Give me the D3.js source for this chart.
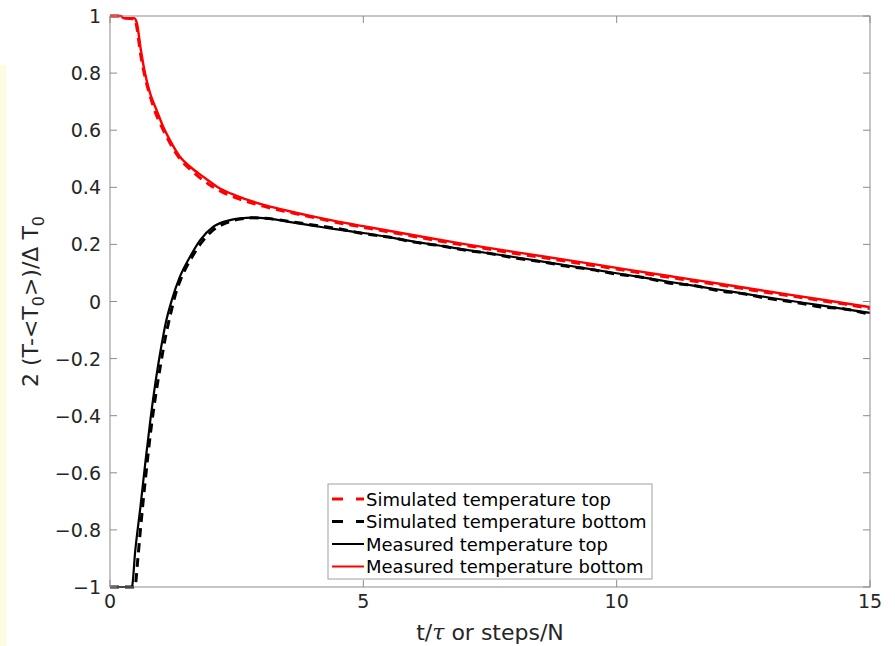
<!DOCTYPE html>
<html><head><meta charset="utf-8">
<script src="https://cdn.jsdelivr.net/npm/d3@7"></script>
<style>body{margin:0;background:#fff}svg{display:block}</style>
</head><body>
<svg id="c" width="895" height="646"></svg>
<script>
// ---- data ----
const measBottomT = [0,0.22,0.26,0.48,0.53,0.61,0.69,0.79,0.92,1.05,1.18,1.38,1.58,1.84,2.17,2.5,3.0,3.5,4.0,4.5,5,6,7,8,9,10,11,12,13,14,15];
const measBottomV = [1.0,1.0,0.993,0.992,0.975,0.88,0.80,0.73,0.67,0.612,0.566,0.507,0.472,0.437,0.396,0.37,0.34,0.318,0.298,0.28,0.264,0.232,0.201,0.173,0.146,0.118,0.090,0.063,0.035,0.008,-0.020];

const measTopT = [0,0.43,0.5,0.6,0.7,0.8,0.9,1.0,1.1,1.22,1.38,1.58,1.78,2.04,2.37,2.57,2.8,3.09,3.5,4.0,4.34,5,6,6.64,7,8,9,10,10.66,11,12,13,14,15];
const measTopV = [-1,-1,-0.87,-0.72,-0.56,-0.41,-0.28,-0.17,-0.075,0.005,0.087,0.157,0.215,0.262,0.285,0.291,0.294,0.291,0.28,0.266,0.256,0.24,0.21,0.192,0.182,0.155,0.127,0.099,0.08,0.07,0.042,0.014,-0.013,-0.04];

const simTopT = [0,0.22,0.26,0.49,0.53,0.6,0.7,0.8,0.9,1.0,1.2,1.4,1.6,1.8,2.0,2.2,2.5,3.0,3.5,4,4.5,5,5.5,6,6.5,7,7.5,8,8.5,9,9.5,10,10.5,11,11.5,12,12.5,13,13.5,14,14.5,15];
const simTopV = [1.0,1.0,0.993,0.99,0.96,0.87,0.78,0.715,0.66,0.62,0.55,0.495,0.46,0.43,0.405,0.385,0.362,0.335,0.314,0.295,0.276,0.26,0.244,0.228,0.212,0.197,0.183,0.168,0.155,0.141,0.127,0.114,0.099,0.086,0.072,0.059,0.045,0.031,0.018,0.004,-0.009,-0.025];

const simBottomT = [0,0.49,0.55,0.6,0.7,0.8,0.9,1.0,1.1,1.2,1.3,1.4,1.6,1.8,2.0,2.2,2.4,2.6,2.8,3.0,3.3,3.6,4,4.5,5,5.5,6,6.5,7,7.5,8,8.5,9,9.5,10,10.5,11,11.5,12,12.5,13,13.5,14,14.5,15];
const simBottomV = [-1,-1,-0.9,-0.8,-0.62,-0.46,-0.33,-0.22,-0.12,-0.04,0.03,0.08,0.15,0.205,0.245,0.268,0.282,0.29,0.293,0.292,0.287,0.279,0.268,0.255,0.238,0.226,0.208,0.196,0.180,0.168,0.152,0.140,0.124,0.112,0.096,0.085,0.066,0.057,0.038,0.027,0.010,-0.002,-0.018,-0.026,-0.045];

const xTicks = [0,5,10,15];
const yTicks = [-1,-0.8,-0.6,-0.4,-0.2,0,0.2,0.4,0.6,0.8,1];
const legendLabels = ["Simulated temperature top","Simulated temperature bottom","Measured temperature top","Measured temperature bottom"];

// ---- layout ----
const svg = d3.select("#c");
const L=110, R=870, T=16, B=587;
const x = d3.scaleLinear().domain([0,15]).range([L,R]);
const y = d3.scaleLinear().domain([-1,1]).range([B,T]);
const font = "'DejaVu Sans', sans-serif";
const axisCol = "#8c8c8c", textCol = "#262626";

svg.append("rect").attr("x",0).attr("y",65).attr("width",6).attr("height",581).attr("fill","#fcfce0");

// series
const series = [
  {t:simTopT, v:simTopV, color:"#ff0000", dash:"9,6", w:3},
  {t:simBottomT, v:simBottomV, color:"#000000", dash:"9,6", w:3},
  {t:measTopT, v:measTopV, color:"#000000", dash:null, w:2.2},
  {t:measBottomT, v:measBottomV, color:"#ff0000", dash:null, w:2.4}
];
const line = d3.line().x(d=>x(d[0])).y(d=>y(d[1])).curve(d3.curveMonotoneX);
const g = svg.append("g");
series.forEach(s=>{
  g.append("path").datum(s.t.map((t,i)=>[t,s.v[i]]))
   .attr("d",line).attr("fill","none").attr("stroke",s.color)
   .attr("stroke-width",s.w).attr("stroke-dasharray",s.dash)
   .attr("stroke-linejoin","round");
});

// axes box
const tl = 7;
const ax = svg.append("g");
ax.append("rect").attr("x",L).attr("y",T).attr("width",R-L).attr("height",B-T)
  .attr("fill","none").attr("stroke",axisCol).attr("stroke-width",1);
xTicks.forEach(v=>{
  ax.append("line").attr("x1",x(v)).attr("x2",x(v)).attr("y1",B).attr("y2",B-tl).attr("stroke",axisCol);
  ax.append("line").attr("x1",x(v)).attr("x2",x(v)).attr("y1",T).attr("y2",T+tl).attr("stroke",axisCol);
  ax.append("text").attr("x",x(v)).attr("y",B+21).attr("text-anchor","middle")
    .attr("font-family",font).attr("font-size",19).attr("fill",textCol).text(v);
});
yTicks.forEach(v=>{
  ax.append("line").attr("x1",L).attr("x2",L+tl).attr("y1",y(v)).attr("y2",y(v)).attr("stroke",axisCol);
  ax.append("line").attr("x1",R).attr("x2",R-tl).attr("y1",y(v)).attr("y2",y(v)).attr("stroke",axisCol);
  const lab = v<0 ? "\u2212"+d3.format("")(Math.abs(v)) : d3.format("")(v);
  ax.append("text").attr("x",L-9).attr("y",y(v)+7).attr("text-anchor","end")
    .attr("font-family",font).attr("font-size",19).attr("fill",textCol).text(lab);
});

// axis labels
const xl = svg.append("text").attr("x",(L+R)/2).attr("y",640).attr("text-anchor","middle")
  .attr("font-family",font).attr("font-size",22).attr("fill",textCol);
xl.append("tspan").text("t/");
xl.append("tspan").attr("font-family","'DejaVu Serif', serif").attr("font-style","italic").text("\u03c4");
xl.append("tspan").text(" or steps/N");

const yl = svg.append("text").attr("transform",`translate(38,${(T+B)/2}) rotate(-90)`)
  .attr("text-anchor","middle").attr("font-family",font).attr("font-size",22).attr("fill",textCol);
yl.append("tspan").text("2 (T-<T");
yl.append("tspan").attr("dy",6).attr("font-size",16).text("0");
yl.append("tspan").attr("dy",-6).text(">)/\u0394 T");
yl.append("tspan").attr("dy",6).attr("font-size",16).text("0");

// legend
const lg = svg.append("g");
lg.append("rect").attr("x",328).attr("y",484).attr("width",324).attr("height",95)
  .attr("fill","#fff").attr("stroke","#a0a0a0").attr("stroke-width",1);
const legendStyle = [series[0],series[1],series[2],series[3]];
legendLabels.forEach((lab,i)=>{
  const cy = 499 + i*22.5;
  const s = legendStyle[i];
  if (s.dash) {
    lg.append("line").attr("x1",332).attr("x2",343).attr("y1",cy).attr("y2",cy).attr("stroke",s.color).attr("stroke-width",3);
    lg.append("line").attr("x1",356).attr("x2",364).attr("y1",cy).attr("y2",cy).attr("stroke",s.color).attr("stroke-width",3);
  } else {
    lg.append("line").attr("x1",332).attr("x2",364).attr("y1",cy).attr("y2",cy).attr("stroke",s.color).attr("stroke-width",2);
  }
  lg.append("text").attr("x",366).attr("y",cy+6.5).attr("font-family",font).attr("font-size",18)
    .attr("fill","#000").text(lab);
});
</script>
</body></html>
